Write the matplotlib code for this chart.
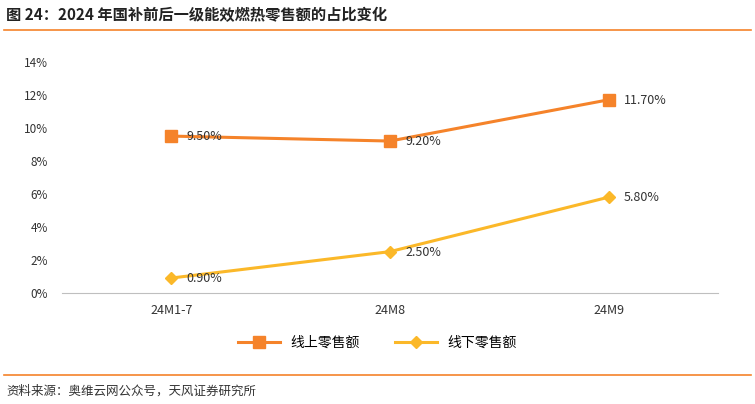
import matplotlib
matplotlib.use("Agg")
import matplotlib.pyplot as plt
from matplotlib.lines import Line2D

plt.rcParams['font.family'] = ['Noto Sans CJK SC', 'DejaVu Sans']

categories = ["24M1-7", "24M8", "24M9"]
online = [9.5, 9.2, 11.7]
offline = [0.9, 2.5, 5.8]
yticks = [0, 2, 4, 6, 8, 10, 12, 14]

c_on = "#F5832A"
c_off = "#FBB829"

fig = plt.figure(figsize=(7.55, 4.04), dpi=100)
ax = fig.add_axes([0.082, 0.275, 0.869, 0.572])
x = [0.5, 1.5, 2.5]
ax.plot(x, online, color=c_on, lw=2.2, marker="s", ms=9, label="线上零售额")
ax.plot(x, offline, color=c_off, lw=2.2, marker="D", ms=6, label="线下零售额")
for xi, v in zip(x, online):
    ax.text(xi + 0.07, v - 0.05, f"{v:.2f}%", fontsize=9, va="center", color="#333333")
for xi, v in zip(x, offline):
    ax.text(xi + 0.07, v - 0.05, f"{v:.2f}%", fontsize=9, va="center", color="#333333")
ax.set_xlim(0, 3)
ax.set_ylim(0, 14)
ax.set_xticks(x)
ax.set_xticklabels(categories, fontsize=9, color="#333333")
ax.set_yticks(yticks)
ax.set_yticklabels([f"{t}%" for t in yticks], fontsize=8.5, color="#333333")
for s in ["top", "right", "left"]:
    ax.spines[s].set_visible(False)
ax.spines["bottom"].set_color("#BFBFBF")
ax.tick_params(axis="y", length=0, pad=10)
ax.tick_params(axis="x", length=0, pad=8)

handles = [Line2D([], [], color=c_on, lw=2.2, marker="s", ms=9),
           Line2D([], [], color=c_off, lw=2.2, marker="D", ms=6)]
fig.legend(handles, ["线上零售额", "线下零售额"], loc="center", bbox_to_anchor=(0.5, 0.152),
           ncol=2, frameon=False, fontsize=10, handlelength=3, columnspacing=2.5)

fig.text(0.008, 0.963, "图 24：2024 年国补前后一级能效燃热零售额的占比变化", fontsize=11,
         fontweight="bold", va="center", color="#222222")
fig.add_artist(Line2D([0.005, 0.995], [0.925, 0.925], color=c_on, lw=1.2, transform=fig.transFigure))
fig.add_artist(Line2D([0.005, 0.995], [0.072, 0.072], color=c_on, lw=1.2, transform=fig.transFigure))
fig.text(0.008, 0.033, "资料来源：奥维云网公众号，天风证券研究所", fontsize=9, va="center", color="#333333")

fig.savefig("out.png", dpi=100)
